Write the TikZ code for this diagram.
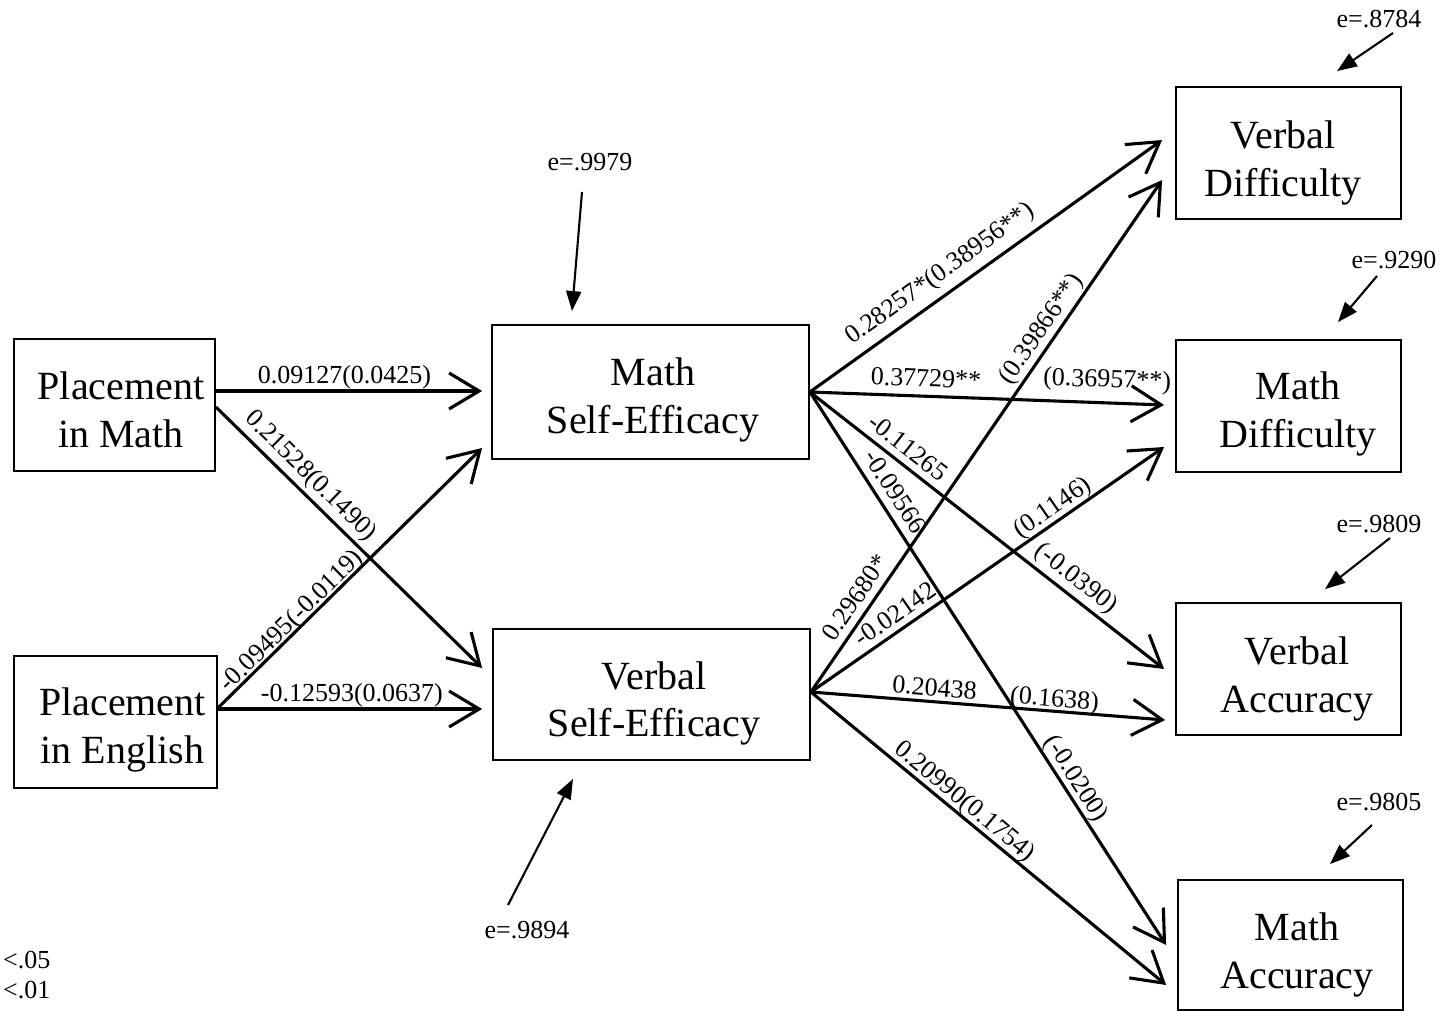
\documentclass[tikz,border=0pt]{standalone}
\usepackage{fontspec}
\setmainfont{Liberation Serif}
\usetikzlibrary{arrows.meta}
\begin{document}
\begin{tikzpicture}[x=1pt,y=-1pt,
  box/.style={draw, line width=1.8pt, inner sep=0pt},
  boxtext/.style={align=center, inner sep=0pt, font=\fontsize{40}{47.5}\selectfont},
  conn/.style={line width=3.1pt, -{Straight Barb[length=30pt,width=36pt]}},
  lab/.style={font=\fontsize{26}{30}\selectfont, sloped, text depth=0pt, inner sep=0pt},
  err/.style={line width=2.1pt, -{Triangle[length=20pt,width=15pt]}},
  etext/.style={font=\fontsize{26}{30}\selectfont, inner sep=0pt}]
\useasboundingbox (0,0) rectangle (1441,1011);

% boxes
\node[box, minimum width=201pt, minimum height=132pt,
  label={[boxtext,xshift=6.5pt,yshift=-5pt]center:{Placement\\in Math}}] (pm) at (114.5,405) {};
\node[box, minimum width=203pt, minimum height=132pt,
  label={[boxtext,xshift=7pt,yshift=-8pt]center:{Placement\\in English}}] (pe) at (115.5,722) {};
\node[box, minimum width=317pt, minimum height=134pt,
  label={[boxtext,xshift=2.5pt,yshift=-8pt]center:{Math\\Self-Efficacy}}] (mse) at (650.5,392) {};
\node[box, minimum width=317pt, minimum height=131pt,
  label={[boxtext,xshift=2.5pt,yshift=-9pt]center:{Verbal\\Self-Efficacy}}] (vse) at (651.5,694.5) {};
\node[box, minimum width=225pt, minimum height=132pt,
  label={[boxtext,xshift=-5.5pt,yshift=-10pt]center:{Verbal\\Difficulty}}] (vd) at (1288.5,153) {};
\node[box, minimum width=225pt, minimum height=132pt,
  label={[boxtext,xshift=9.5pt,yshift=-8pt]center:{Math\\Difficulty}}] (md) at (1288.5,406) {};
\node[box, minimum width=225pt, minimum height=132pt,
  label={[boxtext,xshift=8.5pt,yshift=-10pt]center:{Verbal\\Accuracy}}] (va) at (1288.5,669) {};
\node[box, minimum width=225pt, minimum height=130pt,
  label={[boxtext,xshift=6.5pt,yshift=-10pt]center:{Math\\Accuracy}}] (ma) at (1290.5,945) {};

% left connectors
\draw[conn] ([yshift=14pt]pm.east) -- node[lab,pos=0.483,above=6pt]{0.09127(0.0425)} ([xshift=-9pt,yshift=1pt]mse.west);
\draw[conn] ([yshift=-2pt]pm.east) -- node[lab,pos=0.311,above=9pt]{0.21528(0.1490)} ([xshift=-10pt,yshift=26.5pt]vse.west);
\draw[conn] ([yshift=14pt]pe.east) -- node[lab,pos=0.306,above=2pt]{-0.09495(-0.0119)} ([xshift=-9pt,yshift=-56pt]mse.west);
\draw[conn] ([yshift=13pt]pe.east) -- node[lab,pos=0.507,above=6pt]{-0.12593(0.0637)} ([xshift=-10pt,yshift=-14.5pt]vse.west);

% from Math Self-Efficacy
\draw[conn] (mse.east) -- node[lab,pos=0.403,above=12pt]{0.28257*(0.38956**)} ([xshift=-13pt,yshift=13pt]vd.west);
\draw[conn] (mse.east) -- node[lab,pos=0.326,above=8pt]{0.37729**} node[lab,pos=0.837,above=14pt]{(0.36957**)} ([xshift=-11pt,yshift=1pt]md.west);
\draw[conn] (mse.east) -- node[lab,pos=0.248,above=7pt]{-0.11265} node[lab,pos=0.722,above=9pt]{(-0.0390)} ([xshift=-11pt]va.west);
\draw[conn] (mse.east) -- node[lab,pos=0.1975,above=8pt]{-0.09566} node[lab,pos=0.713,above=6pt]{(-0.0200)} ([xshift=-11pt]ma.west);

% from Verbal Self-Efficacy
\draw[conn] ([yshift=2.5pt]vse.east) -- node[lab,pos=0.1655,above=7pt]{0.29680*} node[lab,pos=0.692,above=7pt]{(0.39866**)} ([xshift=-13pt,yshift=-27pt]vd.west);
\draw[conn] ([yshift=2.5pt]vse.east) -- node[lab,pos=0.264,above=6pt]{-0.02142} node[lab,pos=0.707,above=5pt]{(0.1146)} ([xshift=-11pt,yshift=-41pt]md.west);
\draw[conn] ([yshift=2.5pt]vse.east) -- node[lab,pos=0.346,above=4pt]{0.20438} node[lab,pos=0.685,above=3pt]{(0.1638)} ([xshift=-10pt,yshift=-51pt]va.west);
\draw[conn] ([yshift=2.5pt]vse.east) -- node[lab,pos=0.409,above=5pt]{0.20990(0.1754)} ([xshift=-11pt,yshift=-40pt]ma.west);

% error terms
\node[etext] (e1) at (590,162) {e=.9979};
\node[etext] (e2) at (527,930) {e=.9894};
\node[etext] (e3) at (1379,19) {e=.8784};
\node[etext] (e4) at (1394,260) {e=.9290};
\node[etext] (e5) at (1379,524) {e=.9809};
\node[etext] (e6) at (1379,802) {e=.9805};
\draw[err] ([xshift=-8pt,yshift=-30pt]e1.center) -- ([xshift=-78.5pt,yshift=13pt]mse.north);
\draw[err] ([xshift=-19pt,yshift=25pt]e2.center) -- ([xshift=-78.5pt,yshift=-18pt]vse.south);
\draw[err] ([xshift=14pt,yshift=-14pt]e3.center) -- ([xshift=48.5pt,yshift=15pt]vd.north);
\draw[err] ([xshift=-17pt,yshift=-16pt]e4.center) -- ([xshift=49.5pt,yshift=17pt]md.north);
\draw[err] ([xshift=11pt,yshift=-14pt]e5.center) -- ([xshift=36.5pt,yshift=13pt]va.north);
\draw[err] ([xshift=-7pt,yshift=-23pt]e6.center) -- ([xshift=39.5pt,yshift=15pt]ma.north);

% legend
\node[etext, anchor=west] (l1) at (3,960) {<.05};
\node[etext, anchor=west] (l2) at (3,990) {<.01};
\end{tikzpicture}
\end{document}
